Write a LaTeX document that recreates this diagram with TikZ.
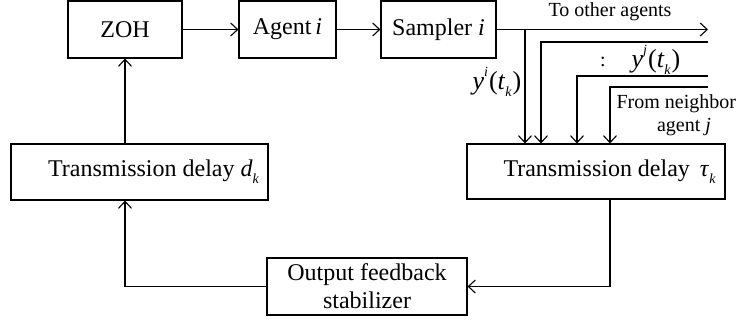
\documentclass[tikz,border=0pt]{standalone}
\usepackage{fontspec}
\setmainfont{Liberation Serif}
\usetikzlibrary{arrows.meta}
\newcommand\supx[1]{\raisebox{0.48em}{\fontsize{14pt}{14pt}\selectfont\itshape #1}}
\newcommand\subx[1]{\raisebox{-0.28em}{\fontsize{14pt}{14pt}\selectfont\itshape #1}}
\newcommand\ysym[1]{\textit{y}\supx{#1}\kern1pt(\textit{t}\subx{k}\kern1pt)}
\begin{document}
\begin{tikzpicture}[x=1pt,y=-1pt,
  line width=1.1pt,
  box/.style={draw, inner sep=0pt, font=\fontsize{24pt}{28pt}\selectfont},
  txt/.style={inner sep=0pt, font=\fontsize{24pt}{28pt}\selectfont},
  mtxt/.style={inner sep=0pt, font=\fontsize{26pt}{28pt}\selectfont},
  small/.style={inner sep=0pt, font=\fontsize{20pt}{23pt}\selectfont},
  arr/.style={-{Straight Barb[length=7pt,width=13pt,line width=1.1pt]}}]
\useasboundingbox (0,0) rectangle (736,324);
% boxes
\node[box, minimum width=114pt, minimum height=57pt] (zoh) at (125,29.5) {ZOH};
\node[box, minimum width=97pt, minimum height=57pt] (agent) at (287.5,29.5) {Agent\,\textit{i}};
\node[box, minimum width=115pt, minimum height=57pt] (samp) at (438.5,29.5) {Sampler \textit{i}};
\node[box, minimum width=257pt, minimum height=56pt] (dbox) at (139.5,172) {};
\node[txt] (dtext) at (153.5,172) {Transmission delay \textit{d}\subx{k}};
\node[box, minimum width=258pt, minimum height=55pt] (tbox) at (596,171.5) {};
\node[txt] (ttext) at (609.5,172) {Transmission delay \,\textit{τ}\subx{k}};
\node[box, minimum width=200pt, minimum height=57pt, align=center] (ofs) at (367,286.5) {Output feedback\\stabilizer};
% coordinates
\coordinate (outend) at (708,29.5);
\coordinate (br) at (525,29.5);
\coordinate (in2) at (708,42);
\coordinate (d2) at (541,42);
\coordinate (in3) at (708,76);
\coordinate (d3) at (577,76);
\coordinate (in4) at (708,87);
\coordinate (d4) at (610,87);
\coordinate (tout) at (610,199);
% connectors
\draw[arr] (zoh.east) -- (agent.west);
\draw[arr] (agent.east) -- (samp.west);
\draw[arr] (samp.east) -- (outend);
\draw[arr] (br) -- (br |- tbox.north);
\draw[arr] (in2) -- (d2) -- (d2 |- tbox.north);
\draw[arr] (in3) -- (d3) -- (d3 |- tbox.north);
\draw[arr] (in4) -- (d4) -- (d4 |- tbox.north);
\draw[arr] (tout |- tbox.south) |- (ofs.east);
\draw[arr] (ofs.west) -| (zoh |- dbox.south);
\draw[arr] (zoh |- dbox.north) -- (zoh.south);
% labels
\node[small] (lto) at (610,12) {To other agents};
\node[mtxt] (lyi) at (497,82) {\ysym{i}};
\node[small] (ldots) at (603,62) {:};
\node[mtxt] (lyj) at (656,60) {\ysym{j}};
\node[small, anchor=west] (lfrom) at (616,104) {From neighbor};
\node[small] (lagent) at (684,127) {agent \textit{j}};
\end{tikzpicture}
\end{document}
